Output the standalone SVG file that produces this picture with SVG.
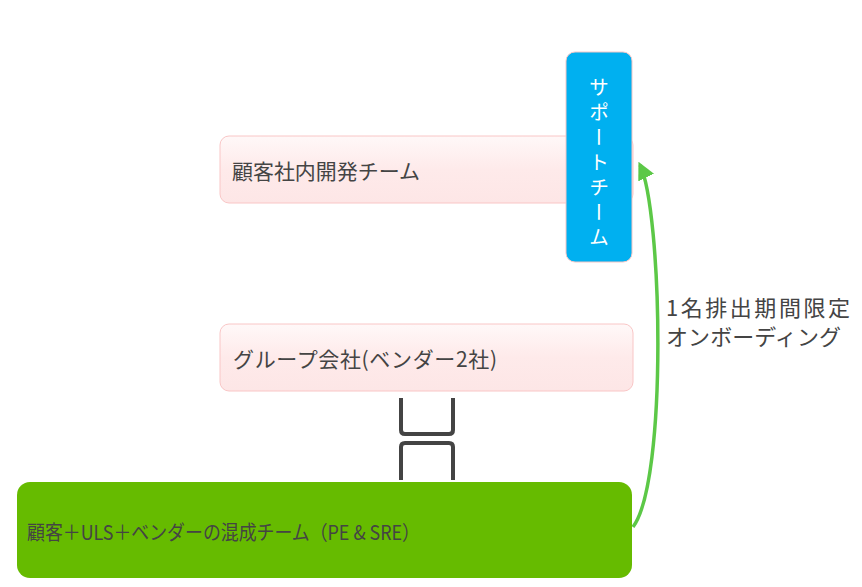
<svg xmlns="http://www.w3.org/2000/svg" width="862" height="587" viewBox="0 0 862 587">
<defs>
<linearGradient id="pink" x1="0" y1="0" x2="0" y2="1">
<stop offset="0" stop-color="#fff8f8"/>
<stop offset="0.5" stop-color="#feeaea"/>
<stop offset="1" stop-color="#fde6e6"/>
</linearGradient>
<marker id="ah" viewBox="0 0 10 10" refX="8" refY="5" markerWidth="5" markerHeight="5" orient="auto" markerUnits="strokeWidth">
<path d="M0,0 L10,5 L0,10 z" fill="#5cc847"/>
</marker>
<style>
.pk{fill:url(#pink);stroke:#f9c6c6;stroke-width:1}
.t{font-family:"Noto Sans CJK JP","Noto Sans",sans-serif;font-size:20px;fill:#444}
.w{font-family:"Noto Sans CJK JP","Noto Sans",sans-serif;font-size:20px;fill:#fff}
.br{fill:none;stroke:#444;stroke-width:4;stroke-linejoin:round}
</style>
</defs>
<rect width="862" height="587" fill="#fff"/>
<g id="node-dev">
<rect class="pk" x="220" y="136" width="413" height="67" rx="9"/>
<text class="t" x="232" y="179" style="font-size:21px" textLength="188" lengthAdjust="spacingAndGlyphs">顧客社内開発チーム</text>
</g>
<g id="node-group">
<rect class="pk" x="220" y="324" width="413" height="67" rx="9"/>
<text class="t" x="233" y="367" style="font-size:21px" textLength="264">グループ会社(ベンダー2社)</text>
</g>
<g id="node-mixed">
<rect x="17" y="482" width="615" height="96" rx="13" fill="#66bb00"/>
<text class="t" x="27" y="540" textLength="393" lengthAdjust="spacingAndGlyphs">顧客＋ULS＋ベンダーの混成チーム（PE &amp; SRE）</text>
</g>
<g id="node-support">
<rect x="566" y="52" width="66" height="210" rx="9" fill="#00b0f0" stroke="#f4c6c6" stroke-width="1"/>
<text class="w" x="599" y="77" style="writing-mode:vertical-rl;letter-spacing:5px">サポートチーム</text>
</g>
<g id="connectors">
<path class="br" d="M401,398 V430 Q401,434 405,434 H449 Q453,434 453,430 V398"/>
<path class="br" d="M401,480 V447 Q401,443 405,443 H449 Q453,443 453,447 V480"/>
<path d="M633,527 C668,480 662,210 640,165" fill="none" stroke="#5cc847" stroke-width="3.5" marker-end="url(#ah)"/>
<text class="t" x="666" y="316" style="font-size:22px" textLength="184">1名排出期間限定</text>
<text class="t" x="666" y="345" style="font-size:22px" textLength="175">オンボーディング</text>
</g>
</svg>
